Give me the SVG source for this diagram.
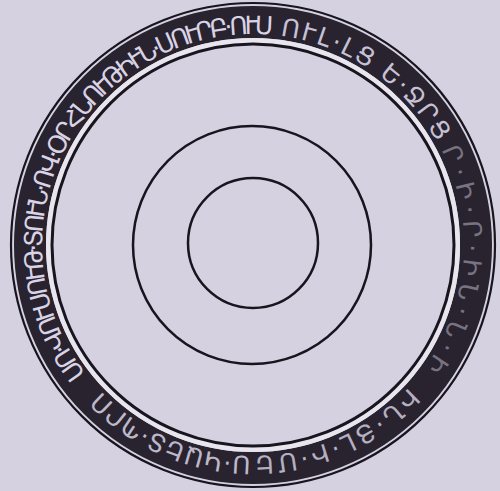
<svg xmlns="http://www.w3.org/2000/svg" width="500" height="491" viewBox="0 0 500 491">
<style>
.ln{fill:none;stroke:#18151f}
.ins{font-family:"DejaVu Sans",sans-serif;font-size:25px;fill:#d9d3e5}
</style>
<defs>
<path id="base" d="M253,456 A211,211 0 1 1 253,34 A211,211 0 1 1 253,456"/>
</defs>
<rect x="0" y="0" width="500" height="491" fill="#d5d1e0"/>
<g id="ring">
<circle cx="253" cy="245" r="223" fill="none" stroke="#28232f" stroke-width="32"/>
<circle class="ln" cx="253" cy="245" r="242" stroke-width="2.2"/>
<circle cx="253" cy="245" r="204.5" fill="none" stroke="#e8e5ee" stroke-width="5"/>
<circle class="ln" cx="253" cy="245" r="201" stroke-width="3"/>
</g>
<g id="inscription">
<text class="ins" letter-spacing="0.5" opacity="0.85"><textPath href="#base" startOffset="2">Ս·ԿԱԵՏ·ՊՐՈ</textPath></text>
<text class="ins" letter-spacing="-3.5"><textPath href="#base" startOffset="193">ՍՈ·ՎՈՒՍՈՒԹ·ՏՈՒՆ·ՈՎ·ՕՐՀՆՈՒԹԻՒՆ·ՍՈՒՐԲ·ՈՒՍ</textPath></text>
<text class="ins" letter-spacing="2" opacity="0.9"><textPath href="#base" startOffset="690">ՈՒԼ·ԼՑ Ե·ՋՐՑ</textPath></text>
<text class="ins" letter-spacing="6" opacity="0.45"><textPath href="#base" startOffset="895">Ր·Ի·Ր·ԻՆ·Ն·Ի</textPath></text>
<text class="ins" letter-spacing="3" opacity="0.8"><textPath href="#base" startOffset="1150">ԻՆ·ՅԼ·Ի·ՄԵ</textPath></text>
</g>
<g id="circles">
<circle class="ln" cx="252" cy="245" r="119" stroke-width="2.5"/>
<circle class="ln" cx="253" cy="243" r="65" stroke-width="2.5"/>
</g>
</svg>
